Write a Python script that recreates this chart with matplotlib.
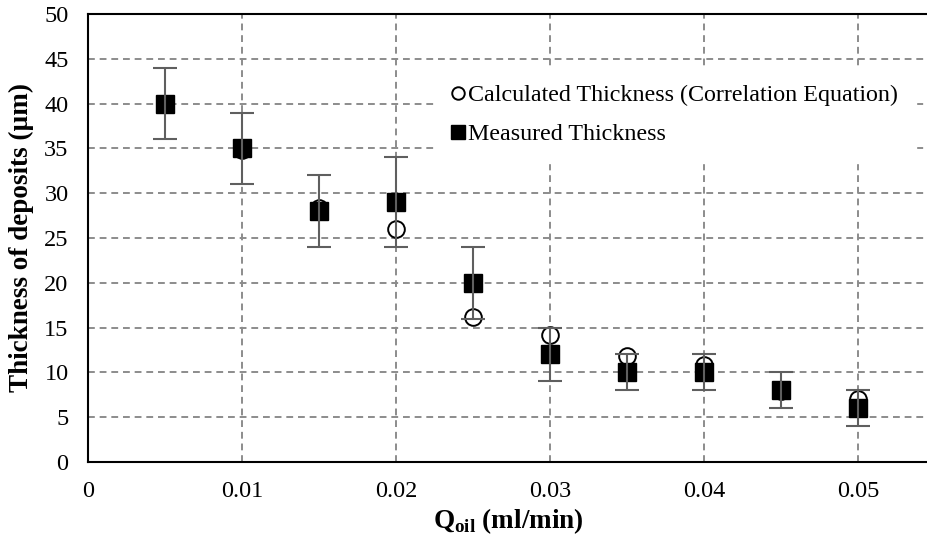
import numpy as np
import matplotlib.pyplot as plt

plt.rcParams['font.family'] = ['Liberation Serif', 'DejaVu Serif']
plt.rcParams['mathtext.fontset'] = 'custom'
plt.rcParams['mathtext.rm'] = 'Liberation Serif'
plt.rcParams['mathtext.bf'] = 'Liberation Serif:bold'

# debit ulei (ml/min)
q_oil = [0.005, 0.01, 0.015, 0.02, 0.025, 0.03, 0.035, 0.04, 0.045, 0.05]
# grosime calculata (ecuatia de corelatie)
calc = [40.0, 34.8, 28.4, 26.0, 16.2, 14.2, 11.8, 10.8, 7.9, 7.0]
# grosime masurata
meas = [40, 35, 28, 29, 20, 12, 10, 10, 8, 6]
meas_err = [4, 4, 4, 5, 4, 3, 2, 2, 2, 2]

fig = plt.figure(figsize=(9.28, 5.46), dpi=100)
ax = fig.add_axes([88/928, (546-462)/546, 1 - 88/928, (462-14)/546])

ax.plot(q_oil, calc, linestyle='none', marker='o', markersize=12,
        markerfacecolor='white', markeredgecolor='black', markeredgewidth=1.4,
        label='Calculated Thickness (Correlation Equation)', zorder=3)
ax.plot(q_oil, meas, linestyle='none', marker='s', markersize=13,
        color='black', label='Measured Thickness', zorder=4)
ax.errorbar(q_oil, meas, yerr=meas_err, fmt='none', ecolor='#5f5f5f',
            elinewidth=1.5, capsize=8.5, capthick=1.5, zorder=5)

ax.set_xlim(0, 0.05455)
ax.set_ylim(0, 50)
ax.set_xticks(np.arange(0, 0.051, 0.01))
ax.set_xticklabels(['0', '0.01', '0.02', '0.03', '0.04', '0.05'])
ax.set_yticks(range(0, 51, 5))
ax.tick_params(length=0, labelsize=17.5)
ax.tick_params(axis='x', pad=14)
ax.tick_params(axis='y', pad=14)

ax.grid(True, color='#8c8c8c', linestyle=(0, (3.5, 2.5)), linewidth=1.4, zorder=0)
ax.set_axisbelow(True)
for s in ['left', 'bottom', 'top']:
    ax.spines[s].set_linewidth(1.5)
ax.spines['right'].set_visible(False)

ax.set_xlabel(r'Q$_{\mathbf{oil}}$ (ml/min)', fontsize=19.5, fontweight='bold', labelpad=3)
ax.set_ylabel('Thickness of deposits (µm)', fontsize=19.5, fontweight='bold', labelpad=7)

leg = ax.legend(loc='upper right', bbox_to_anchor=(1.0, 0.91), fontsize=17.3,
                frameon=True, fancybox=False, edgecolor='white', framealpha=1,
                handlelength=0.5, handletextpad=0.15, labelspacing=0.72,
                borderpad=0.75, markerscale=0.75)

plt.savefig('out.png', dpi=100)
